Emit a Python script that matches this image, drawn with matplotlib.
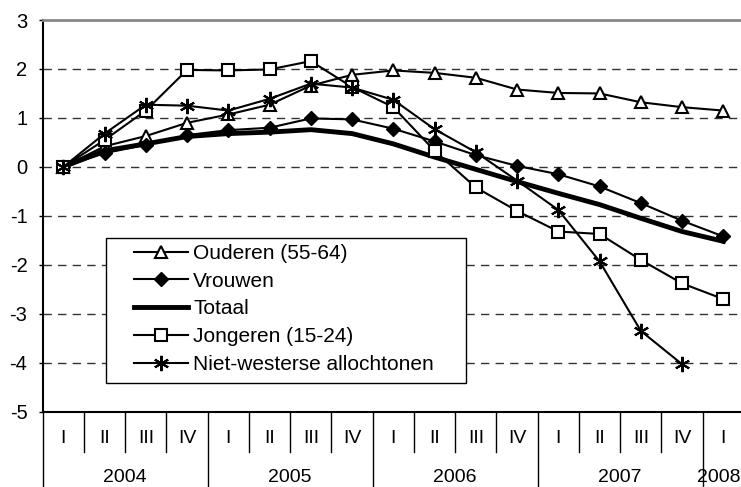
import numpy as np
import matplotlib
matplotlib.use('Agg')
import matplotlib.pyplot as plt
from matplotlib.patches import Rectangle
import matplotlib.transforms as mtrans

plt.rcParams['font.family'] = ['Liberation Sans', 'DejaVu Sans']
plt.rcParams['axes.unicode_minus'] = False

# kwartalen 2004 I t/m 2008 I
kwartalen = ['I', 'II', 'III', 'IV'] * 4 + ['I']
jaren = ['2004', '2005', '2006', '2007', '2008']

ouderen = [0, 0.42, 0.63, 0.9, 1.07, 1.27, 1.66, 1.88, 1.97, 1.92, 1.82, 1.58, 1.51, 1.5, 1.32, 1.22, 1.15]
vrouwen = [0, 0.28, 0.45, 0.65, 0.75, 0.8, 0.99, 0.97, 0.78, 0.52, 0.24, 0.02, -0.15, -0.4, -0.74, -1.1, -1.42]
totaal = [0, 0.33, 0.47, 0.62, 0.68, 0.71, 0.76, 0.68, 0.47, 0.2, -0.05, -0.3, -0.54, -0.77, -1.05, -1.32, -1.52]
jongeren = [0, 0.55, 1.15, 1.98, 1.97, 1.99, 2.16, 1.63, 1.22, 0.33, -0.42, -0.9, -1.32, -1.37, -1.9, -2.38, -2.7]
allochtonen = [0, 0.68, 1.27, 1.25, 1.15, 1.39, 1.7, 1.62, 1.37, 0.77, 0.3, -0.28, -0.88, -1.93, -3.35, -4.03, np.nan]

W, H = 741, 487
fig = plt.figure(figsize=(W/100, H/100), dpi=100)
ax = fig.add_axes([42.7/W, 75.3/H, (W-42.7)/W, 391.7/H])

x = np.arange(len(kwartalen))
ax.plot(x, ouderen, color='black', lw=1.5, marker='^', ms=9, mfc='white', mec='black', mew=1.5,
        label='Ouderen (55-64)', zorder=3)
ax.plot(x, vrouwen, color='black', lw=1.5, marker='D', ms=7, mfc='black', mec='black',
        label='Vrouwen', zorder=3)
ax.plot(x, totaal, color='black', lw=3.5, label='Totaal', zorder=3)
ax.plot(x, jongeren, color='black', lw=1.5, marker='s', ms=9, mfc='white', mec='black', mew=1.5,
        label='Jongeren (15-24)', zorder=3)
ax.plot(x, allochtonen, color='black', lw=1.5, marker=(6, 2, 0), ms=11, mec='black', mew=1.5,
        label='Niet-westerse allochtonen', zorder=3)

ax.set_ylim(-5, 3)
ax.set_xlim(-0.5, -0.5 + (W - 42.7) / 41.25)
ax.set_yticks(range(-5, 4))
ax.set_yticklabels([str(v) for v in range(-5, 4)], fontsize=14.5)
ax.tick_params(axis='y', length=3, width=1, pad=8)
ax.set_xticks([])

for v in range(-4, 3):
    ax.axhline(v, color='#333333', lw=1, ls=(0, (6, 4.5)), zorder=1)

ax.spines['right'].set_visible(False)
ax.spines['top'].set_color('#888888')
ax.spines['top'].set_linewidth(2)
ax.spines['left'].set_linewidth(1.5)
ax.spines['bottom'].set_linewidth(1.5)

# categorie-as met kwartalen en jaren
trans = mtrans.blended_transform_factory(ax.transData, ax.transAxes)
for k in range(len(kwartalen) + 1):
    y_end = -0.195 if k % 4 == 0 else -0.103
    ax.plot([k - 0.5, k - 0.5], [0, y_end], color='black', lw=1, transform=trans, clip_on=False)
for i, q in enumerate(kwartalen):
    ax.text(i, -0.068, q, transform=trans, ha='center', va='center', fontsize=14)
for j, jr in enumerate(jaren[:4]):
    ax.text(j * 4 + 1.5, -0.167, jr, transform=trans, ha='center', va='center', fontsize=14)
ax.text(0.9995, -0.167, jaren[4], transform=ax.transAxes, ha='right', va='center', fontsize=14)

# legenda met witte kader
fig.add_artist(Rectangle((106/W, 1 - 382.7/H), 360/W, 144.7/H, transform=fig.transFigure,
                         facecolor='white', edgecolor='black', lw=1, zorder=2))
fig.legend(loc='upper left', bbox_to_anchor=(134/W, 1 - 244/H), frameon=False, fontsize=15,
           handlelength=2.6, handletextpad=0.25, labelspacing=0.42, borderpad=0, borderaxespad=0)

plt.savefig('out.png', dpi=100)
